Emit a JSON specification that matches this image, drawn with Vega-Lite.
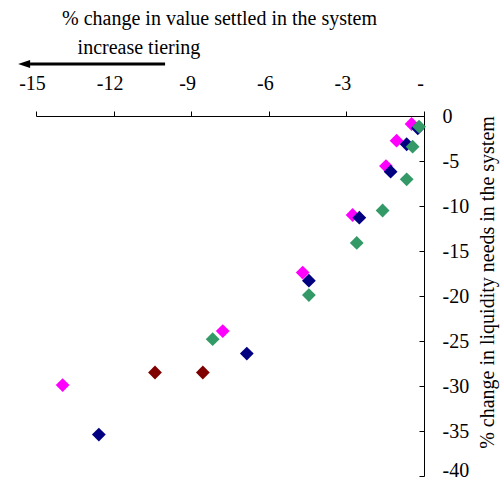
{
  "$schema": "https://vega.github.io/schema/vega-lite/v6.json",
  "width": 388,
  "height": 360,
  "autosize": {"type": "none"},
  "padding": {"left": 36, "top": 116, "right": 78, "bottom": 7},
  "background": "white",
  "config": {
    "view": {"stroke": null},
    "font": "Liberation Serif",
    "axis": {"labelFont": "Liberation Serif", "titleFont": "Liberation Serif"},
    "text": {"font": "Liberation Serif"}
  },
  "encoding": {
    "x": {
      "field": "x",
      "type": "quantitative",
      "scale": {"domain": [-15, 0], "nice": false, "zero": false},
      "axis": {
        "orient": "top",
        "values": [-15, -12, -9, -6, -3, 0],
        "grid": false,
        "labelExpr": "datum.value == 0 ? '-\u00a0\u00a0' : '-' + abs(datum.value)",
        "labelFontSize": 20,
        "labelColor": "black",
        "labelBaseline": "alphabetic",
        "labelPadding": 22,
        "labelOffset": -4,
        "labelFlush": false,
        "labelOverlap": false,
        "tickSize": 5,
        "tickColor": "black",
        "domainColor": "black",
        "title": "% change in value settled in the system",
        "titleFontSize": 20,
        "titleFontWeight": "normal",
        "titleColor": "black",
        "titleX": 183,
        "titleY": -98,
        "titleAlign": "center",
        "titleBaseline": "middle",
        "titleAngle": 0
      }
    },
    "y": {
      "field": "y",
      "type": "quantitative",
      "scale": {"domain": [-40, 0], "nice": false, "zero": false},
      "axis": {
        "orient": "right",
        "values": [0, -5, -10, -15, -20, -25, -30, -35, -40],
        "grid": false,
        "labelExpr": "datum.value == 0 ? '0' : '-' + abs(datum.value)",
        "labelFontSize": 20,
        "labelColor": "black",
        "labelAlign": "left",
        "labelBaseline": "middle",
        "labelPadding": 23,
        "labelOffset": {"condition": {"test": "datum.value == -40", "value": -6}, "value": 0},
        "labelFlush": false,
        "labelOverlap": false,
        "tickSize": -5,
        "tickColor": "black",
        "domainColor": "black",
        "title": "% change in liquidity needs in the system",
        "titleFontSize": 20,
        "titleFontWeight": "normal",
        "titleColor": "black",
        "titleAngle": 270,
        "titleX": 63,
        "titleY": 166,
        "titleAlign": "center",
        "titleBaseline": "middle"
      }
    }
  },
  "layer": [
    {
      "data": {
        "values": [
          {"series": "A", "x": -13.97, "y": -29.9},
          {"series": "A", "x": -7.78, "y": -23.9},
          {"series": "A", "x": -4.69, "y": -17.4},
          {"series": "A", "x": -2.76, "y": -11.0},
          {"series": "A", "x": -1.47, "y": -5.56},
          {"series": "A", "x": -1.06, "y": -2.74},
          {"series": "A", "x": -0.48, "y": -0.89},
          {"series": "B", "x": -12.57, "y": -35.4},
          {"series": "B", "x": -6.85, "y": -26.4},
          {"series": "B", "x": -4.45, "y": -18.3},
          {"series": "B", "x": -2.5, "y": -11.3},
          {"series": "B", "x": -1.29, "y": -6.19},
          {"series": "B", "x": -0.67, "y": -3.14},
          {"series": "B", "x": -0.24, "y": -1.37},
          {"series": "C", "x": -8.17, "y": -24.8},
          {"series": "C", "x": -4.45, "y": -19.9},
          {"series": "C", "x": -2.6, "y": -14.1},
          {"series": "C", "x": -1.6, "y": -10.5},
          {"series": "C", "x": -0.67, "y": -7.03},
          {"series": "C", "x": -0.44, "y": -3.41},
          {"series": "C", "x": -0.19, "y": -1.19},
          {"series": "D", "x": -10.4, "y": -28.5},
          {"series": "D", "x": -8.55, "y": -28.5}
        ]
      },
      "mark": {"type": "point", "shape": "diamond", "filled": true, "size": 190, "opacity": 1},
      "encoding": {
        "color": {
          "field": "series",
          "type": "nominal",
          "scale": {"domain": ["A", "B", "C", "D"], "range": ["#FF00FF", "#000080", "#339966", "#800000"]},
          "legend": null
        }
      }
    },
    {
      "data": {"values": [{"x": -11.02, "y": 7.56, "label": "increase tiering"}]},
      "mark": {"type": "text", "fontSize": 20, "color": "black", "align": "center", "baseline": "middle"},
      "encoding": {"text": {"field": "label"}}
    },
    {
      "data": {"values": [{"x": -10.01, "x2": -15.23, "y": 5.78}]},
      "mark": {"type": "rule", "color": "black", "strokeWidth": 3},
      "encoding": {"x2": {"field": "x2"}}
    },
    {
      "data": {"values": [{"x": -15.46, "y": 5.78}]},
      "mark": {"type": "point", "shape": "M-1,0L1,-0.67L1,0.67Z", "filled": true, "size": 144, "color": "black", "opacity": 1}
    }
  ]
}
